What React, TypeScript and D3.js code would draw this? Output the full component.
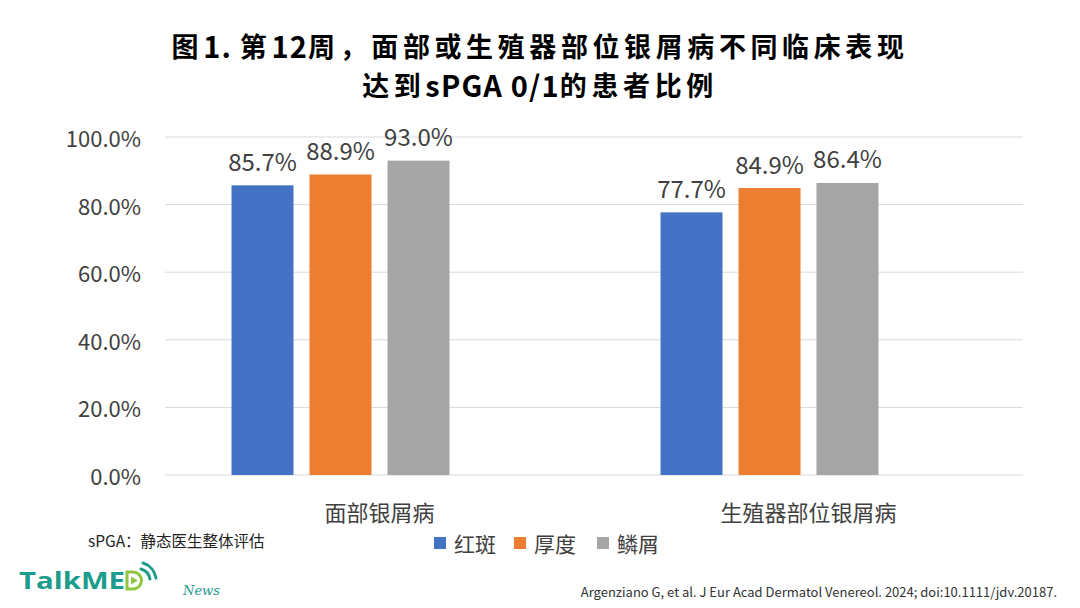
import React from "react";
import * as d3 from "d3";

const categories = ["面部银屑病", "生殖器部位银屑病"];
const seriesNames = ["红斑", "厚度", "鳞屑"];
const seriesColors = ["#4472C4", "#ED7D31", "#A5A5A5"];
const redSpot = [85.7, 77.7];
const thickness = [88.9, 84.9];
const scale = [93.0, 86.4];
const seriesValues = [redSpot, thickness, scale];
const yTicks = [0, 20, 40, 60, 80, 100];
const titleLines = ["图1. 第12周，面部或生殖器部位银屑病不同临床表现", "达到sPGA 0/1的患者比例"];

const W = 1080;
const H = 608;
const FONT = "'Noto Sans CJK SC', 'Noto Sans', sans-serif";

function splitRuns(s: string) {
  return s.split(/([A-Za-z0-9./ ]+)/).filter((p) => p.length > 0);
}

export default function App() {
  const plot = { left: 165, right: 1023, top: 137, bottom: 475 };
  const y = d3.scaleLinear().domain([0, 100]).range([plot.bottom, plot.top]);
  const x0 = d3.scaleBand<string>().domain(categories).range([plot.left, plot.right]).padding(0);
  // Excel-like layout with 4 slots per group (4th slot empty)
  const x1 = d3
    .scaleBand<number>()
    .domain([0, 1, 2, 3])
    .range([0, x0.bandwidth()])
    .paddingInner(0.205)
    .paddingOuter(0.853);

  const legendItems = [
    { x: 434, name: seriesNames[0], color: seriesColors[0] },
    { x: 514, name: seriesNames[1], color: seriesColors[1] },
    { x: 597, name: seriesNames[2], color: seriesColors[2] },
  ];

  return (
    <svg
      width={W}
      height={H}
      style={{ position: "absolute", left: 0, top: 0, background: "#fff" }}
      fontFamily={FONT}
    >
      <rect width={W} height={H} fill="#fff" />
      {titleLines.map((t, i) => (
        <text
          key={i}
          x={540}
          y={45 + i * 39}
          textAnchor="middle"
          dominantBaseline="central"
          fontSize={27}
          fontWeight="bold"
          fill="#000"
        >
          {splitRuns(t).map((run, k) => {
            const latin = /^[A-Za-z0-9./ ]+$/.test(run);
            return (
              <tspan key={k} letterSpacing={latin ? 1.2 : 4.6} fontSize={latin ? 29 : 27}>
                {run}
              </tspan>
            );
          })}
        </text>
      ))}

      {yTicks.map((t) => (
        <g key={t}>
          <line x1={plot.left} x2={plot.right} y1={y(t)} y2={y(t)} stroke="#d9d9d9" strokeWidth={1} />
          <text
            x={141}
            y={y(t)}
            textAnchor="end"
            dominantBaseline="central"
            fontSize={22}
            fill="#404040"
          >
            {t.toFixed(1) + "%"}
          </text>
        </g>
      ))}

      {categories.map((c, ci) => (
        <g key={c} transform={`translate(${x0(c)},0)`}>
          {seriesValues.map((vals, si) => {
            const v = vals[ci];
            const bx = x1(si)!;
            return (
              <g key={si}>
                <rect
                  x={bx}
                  y={y(v)}
                  width={x1.bandwidth()}
                  height={y(0) - y(v)}
                  fill={seriesColors[si]}
                />
                <text
                  x={bx + x1.bandwidth() / 2}
                  y={y(v) - 25}
                  textAnchor="middle"
                  dominantBaseline="central"
                  fontSize={24}
                  fill="#404040"
                >
                  {v.toFixed(1) + "%"}
                </text>
              </g>
            );
          })}
          <text
            x={x0.bandwidth() / 2}
            y={511}
            textAnchor="middle"
            dominantBaseline="central"
            fontSize={22}
            fill="#404040"
          >
            {c}
          </text>
        </g>
      ))}

      {legendItems.map((it) => (
        <g key={it.name}>
          <rect x={it.x} y={537} width={12} height={12} fill={it.color} />
          <text x={it.x + 20} y={543} dominantBaseline="central" fontSize={21} fill="#404040">
            {it.name}
          </text>
        </g>
      ))}

      <text x={88} y={540} dominantBaseline="central" fontSize={15.5} fill="#222">
        sPGA：静态医生整体评估
      </text>

      {/* logo */}
      <text
        x={19}
        y={589}
        fontSize={23}
        fontWeight="bold"
        fill="#1b9c8c"
        fontFamily="'Open Sans', sans-serif"
        textLength={106}
        lengthAdjust="spacingAndGlyphs"
      >
        TalkME
      </text>
      <g transform="translate(127,572)">
        <path d="M0,0 h6 a8.5,8.5 0 0 1 0,17 h-6 z" fill="none" stroke="#8dc63f" strokeWidth={3} />
        <path d="M4,4.5 L11,8.5 L4,12.5 z" fill="#8dc63f" />
        <path d="M14,-3 a13,13 0 0 1 9,10" fill="none" stroke="#1b9c8c" strokeWidth={3} strokeLinecap="round" />
        <path d="M16,-9 a19,19 0 0 1 13,15" fill="none" stroke="#1b9c8c" strokeWidth={3} strokeLinecap="round" />
      </g>
      <text x={183} y={595} fontSize={13} fontStyle="italic" fill="#1b9c8c" fontFamily="'DejaVu Serif', serif">
        News
      </text>

      <text x={1057} y={591} textAnchor="end" dominantBaseline="central" fontSize={13} fill="#333">
        Argenziano G, et al. J Eur Acad Dermatol Venereol. 2024; doi:10.1111/jdv.20187.
      </text>
    </svg>
  );
}
